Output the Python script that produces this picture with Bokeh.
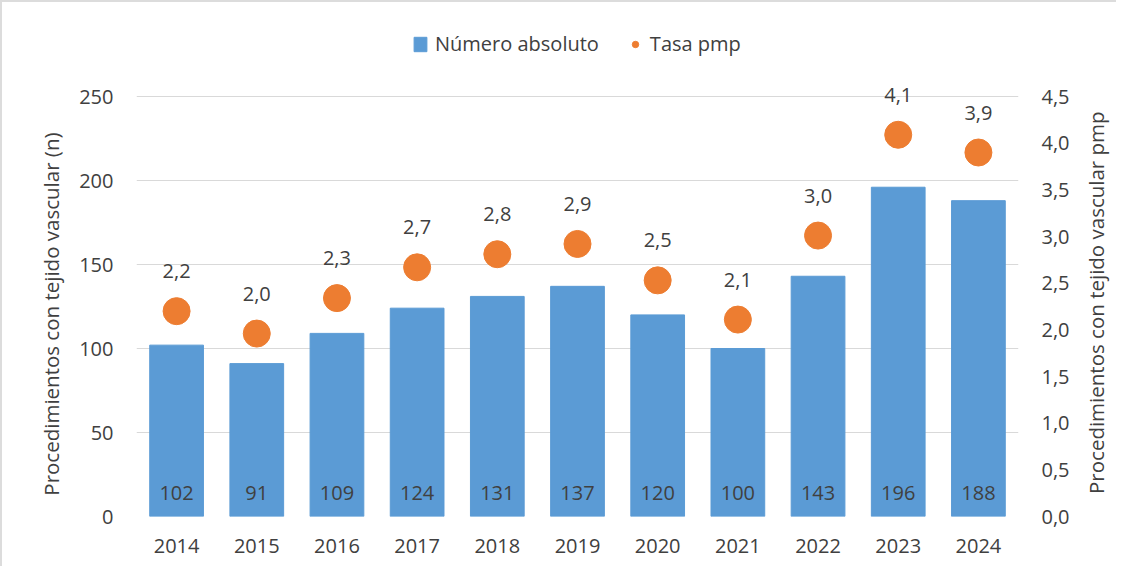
import math
from bokeh.plotting import figure
from bokeh.layouts import row
from bokeh.models import (ColumnDataSource, Range1d, LinearAxis, FixedTicker,
                          CustomJSTickFormatter, Legend, LegendItem)
from bokeh.core.properties import value
from bokeh.embed import file_html
from bokeh.resources import INLINE

years = ["2014", "2015", "2016", "2017", "2018", "2019", "2020", "2021", "2022", "2023", "2024"]
absolute = [102, 91, 109, 124, 131, 137, 120, 100, 143, 196, 188]
rate_pmp = [2.20, 1.96, 2.34, 2.67, 2.81, 2.92, 2.53, 2.11, 3.01, 4.09, 3.90]
left_ticks = [0, 50, 100, 150, 200, 250]
right_ticks = [0.0, 0.5, 1.0, 1.5, 2.0, 2.5, 3.0, 3.5, 4.0, 4.5]
left_title = "Procedimientos  con tejido vascular (n)"
right_title = "Procedimientos con tejido vascular pmp"

FONT = "Open Sans"
TXT = "#404040"
BLUE = "#5B9BD5"
ORANGE = "#ED7D31"
NBSP = "\u00a0"
H = 566

src = ColumnDataSource(dict(
    x=years,
    n=absolute,
    n_lab=[str(v) for v in absolute],
    r=rate_pmp,
    r_lab=[f"{v:.1f}".replace(".", ",") for v in rate_pmp],
    zero=[0] * len(years),
))

# frame extends above the top tick so that labels and legend fit inside it
EXT = 490 / 420
p = figure(x_range=years, y_range=Range1d(0, 250 * EXT), width=1076, height=H,
           output_backend="svg", toolbar_location=None,
           min_border_left=134, min_border_right=60, min_border_top=24, min_border_bottom=52)
p.styles = {"border-left": "2px solid #dcdcdc", "border-top": "2px solid #dcdcdc"}
p.outline_line_color = None
p.background_fill_color = "white"
p.border_fill_color = "white"

p.extra_y_ranges = {"rate": Range1d(0, 4.5 * EXT)}

bars = p.vbar(x="x", top="n", width=0.67, source=src, fill_color=BLUE, line_color=BLUE)
pts = p.scatter(x="x", y="r", size=27, source=src, fill_color=ORANGE, line_color=ORANGE,
                y_range_name="rate")

p.text(x="x", y="zero", text="n_lab", source=src, text_align="center", text_baseline="middle",
       y_offset=-24, text_font=value(FONT), text_font_size="20px", text_color=TXT)
p.text(x="x", y="r", text="r_lab", source=src, text_align="center", text_baseline="middle",
       y_offset=-40, text_font=value(FONT), text_font_size="20px", text_color=TXT,
       y_range_name="rate")

def style_axis(ax):
    ax.axis_line_color = None
    ax.major_tick_line_color = None
    ax.minor_tick_line_color = None
    ax.major_label_text_font = FONT
    ax.major_label_text_font_size = "20px"
    ax.major_label_text_color = TXT
    ax.axis_label_text_font = FONT
    ax.axis_label_text_font_size = "20.5px"
    ax.axis_label_text_font_style = "normal"
    ax.axis_label_text_color = TXT

# left axis (title padded at its top end so it sits centred on the 0-250 span)
ly = p.yaxis[0]
ly.ticker = FixedTicker(ticks=left_ticks)
style_axis(ly)
ly.major_label_standoff = 17
ly.axis_label = left_title + NBSP * 15
ly.axis_label_standoff = 11

# right axis (its title is drawn in the narrow side figure)
ry = LinearAxis(y_range_name="rate", ticker=FixedTicker(ticks=right_ticks),
                formatter=CustomJSTickFormatter(code="return tick.toFixed(1).replace('.', ',');"))
style_axis(ry)
ry.major_label_standoff = 17
p.add_layout(ry, "right")

# x axis
xa = p.xaxis[0]
style_axis(xa)
xa.major_label_standoff = 16

p.xgrid.grid_line_color = None
p.ygrid.grid_line_color = "#d9d9d9"
p.ygrid.grid_line_width = 1
p.ygrid.ticker = FixedTicker(ticks=left_ticks)

legend = Legend(items=[LegendItem(label="Número absoluto", renderers=[bars]),
                       LegendItem(label="Tasa pmp", renderers=[pts])],
                orientation="horizontal", location=(276, 459),
                label_text_font=FONT, label_text_font_size="20px", label_text_color=TXT,
                glyph_width=16, glyph_height=18, spacing=28, padding=0, margin=0,
                border_line_color=None, background_fill_alpha=0, label_standoff=7)
p.add_layout(legend, "center")

# narrow side figure carrying the right-hand axis title (reads bottom to top)
SW = 40
s = figure(width=SW, height=H, x_range=Range1d(0, SW), y_range=Range1d(0, H),
           output_backend="svg", toolbar_location=None,
           min_border_left=0, min_border_right=0, min_border_top=0, min_border_bottom=0)
s.styles = {"border-top": "2px solid #dcdcdc"}
s.axis.visible = False
s.grid.visible = False
s.outline_line_color = None
s.background_fill_color = "white"
s.border_fill_color = "white"
s.text(x=[19], y=[H - 319], text=[right_title], angle=math.pi / 2,
       text_align="center", text_baseline="middle", text_font=value(FONT),
       text_font_size="20.5px", text_color=TXT)

layout = row(p, s)
open("out.html", "w").write(file_html(layout, INLINE))
